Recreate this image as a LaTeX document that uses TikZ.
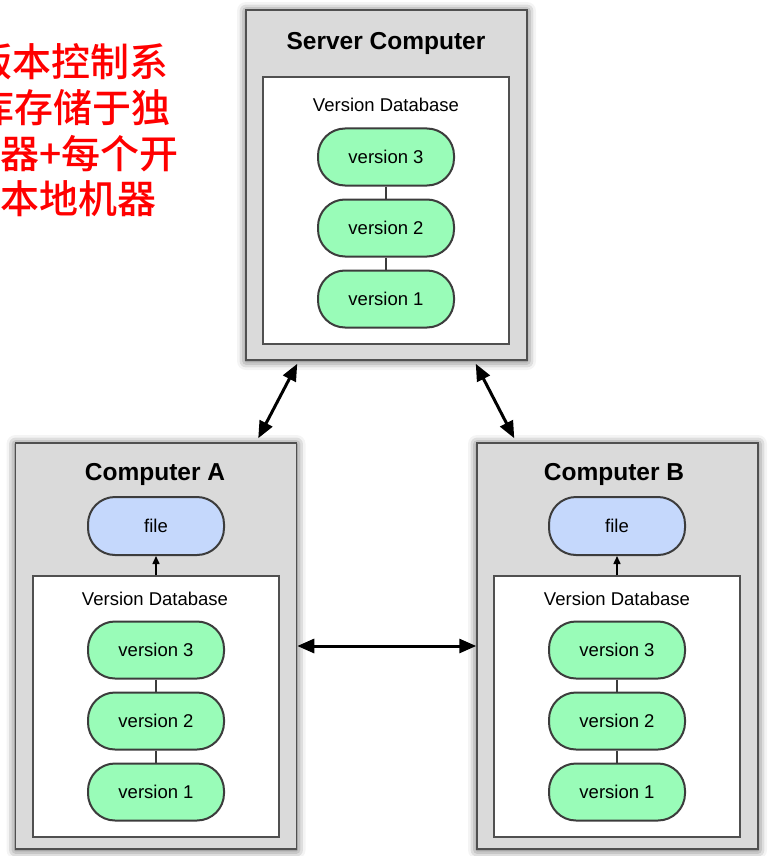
\documentclass[tikz,border=0pt]{standalone}
\usepackage{fontspec}
\setmainfont{Liberation Sans}
\newfontfamily\cjk{Noto Sans CJK SC}[UprightFont=* Medium,BoldFont=* Bold]
\usetikzlibrary{arrows.meta,calc,shadows.blur}
\definecolor{boxgray}{RGB}{218,218,218}
\definecolor{edgegray}{RGB}{80,80,80}
\definecolor{vergreen}{RGB}{153,252,184}
\definecolor{fileblue}{RGB}{197,216,252}
\definecolor{pilledge}{RGB}{60,60,60}

\begin{document}
\begin{tikzpicture}[x=1pt,y=-1pt,
    machine/.style={draw=edgegray,line width=1.5pt,fill=boxgray,inner sep=0pt,
      minimum width=281pt,
      blur shadow={shadow xshift=0pt,shadow yshift=-1pt,shadow blur radius=9pt,shadow opacity=70}},
    dbbox/.style={draw=edgegray,line width=1.5pt,fill=white,inner sep=0pt,minimum width=246pt},
    pill/.style={draw=pilledge,line width=2pt,rounded corners=27pt,
      minimum width=136pt,minimum height=57pt,font=\fontsize{18.5}{20}\selectfont},
    version/.style={pill,fill=vergreen},
    filebox/.style={pill,fill=fileblue,minimum height=58pt},
    title/.style={anchor=base,inner sep=0pt,font=\bfseries\fontsize{24.5}{26}\selectfont},
    dblabel/.style={anchor=base,inner sep=0pt,font=\fontsize{18.5}{20}\selectfont},
    chain/.style={draw=pilledge,line width=1.2pt},
    sync/.style={line width=3pt,{Triangle[length=17pt,width=14pt]}-{Triangle[length=17pt,width=14pt]}},
    fetch/.style={line width=1.5pt,-{Triangle[length=8pt,width=7pt]}},
    note/.style={anchor=base west,inner sep=0pt,text=red,font=\cjk\fontsize{39}{45}\selectfont}]
  \useasboundingbox (0,0) rectangle (778,856);
  \clip (0,0) rectangle (778,856);

  % caption, cut off at the left edge
  \node[note] (note1) at (-27,77) {版本控制系};
  \node[note] (note2) at (-25,122) {库存储于独};
  \node[note] (note3) at (0,168) {器+每个开};
  \node[note] (note4) at (0,213) {本地机器};

  % server
  \node[machine,minimum height=350pt] (server) at (386.5,185) {};
  \node[dbbox,minimum height=267pt] (serverdb) at (386,210.5) {};
  \node[title] (servertitle) at (386,50) {Server Computer};
  \node[dblabel] (serverdblabel) at (386,112) {Version Database};
  \node[version] (sv3) at (386,157) {version 3};
  \node[version] (sv2) at (386,228) {version 2};
  \node[version] (sv1) at (386,299) {version 1};
  \draw[chain] (sv3) -- (sv2) (sv2) -- (sv1);

  % computer A
  \node[machine,minimum height=406pt] (compA) at (156,646) {};
  \node[dbbox,minimum height=261pt] (adb) at (156,706.5) {};
  \node[title] (atitle) at (155,480) {Computer A};
  \node[filebox] (afile) at (156,526) {file};
  \node[dblabel] (adblabel) at (155,605) {Version Database};
  \node[version] (av3) at (156,650) {version 3};
  \node[version] (av2) at (156,721) {version 2};
  \node[version] (av1) at (156,792) {version 1};
  \draw[chain] (av3) -- (av2) (av2) -- (av1);
  \draw[fetch] (adb.north) -- (afile.south);

  % computer B
  \node[machine,minimum height=406pt] (compB) at (617.5,646) {};
  \node[dbbox,minimum height=261pt] (bdb) at (617,706.5) {};
  \node[title] (btitle) at (614,480) {Computer B};
  \node[filebox] (bfile) at (617,526) {file};
  \node[dblabel] (bdblabel) at (617,605) {Version Database};
  \node[version] (bv3) at (617,650) {version 3};
  \node[version] (bv2) at (617,721) {version 2};
  \node[version] (bv1) at (617,792) {version 1};
  \draw[chain] (bv3) -- (bv2) (bv2) -- (bv1);
  \draw[fetch] (bdb.north) -- (bfile.south);

  % links between the machines
  \draw[sync] ($(server.south west)+(52,3)$) -- ($(compA.north east)+(-39,-4)$);
  \draw[sync] ($(server.south east)+(-52,3)$) -- ($(compB.north west)+(38,-4)$);
  \draw[sync] (compA.east) -- (compB.west);
\end{tikzpicture}
\end{document}
